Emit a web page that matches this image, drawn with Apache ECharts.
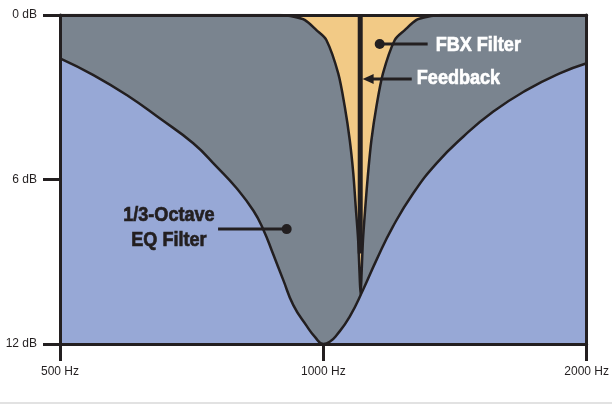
<!DOCTYPE html>
<html>
<head>
    <meta charset="utf-8">
    <title>FBX vs 1/3-Octave EQ</title>
    <script src="https://cdn.jsdelivr.net/npm/echarts@6/dist/echarts.min.js"></script>
    <style>
        html, body { margin: 0; padding: 0; background: #fff; }
    </style>
</head>
<body>
    <div id="main" style="width: 612px;height:404px;"></div>
    <script type="text/javascript">
        // tick labels
        var freqTicks = [500, 1000, 2000];
        var freqLabels = ['500 Hz', '1000 Hz', '2000 Hz'];
        var dbTicks = [0, 6, 12];
        var dbLabels = ['0 dB', '6 dB', '12 dB'];

        // 1/3-octave EQ filter (Hz, dB cut)
        var eqFreq = [500, 546, 596, 650, 710, 755, 796, 832, 854, 876, 900, 924, 957, 978, 1000,
                      1017, 1036, 1072, 1110, 1150, 1201, 1267, 1347, 1445, 1563, 1707, 1863, 2000];
        var eqGain = [1.58, 2.19, 2.92, 3.77, 4.68, 5.53, 6.32, 7.14, 7.83, 8.71, 9.67, 10.58, 11.34, 11.74, 12,
                      11.92, 11.67, 11.0, 10.03, 8.94, 7.72, 6.50, 5.41, 4.44, 3.53, 2.74, 2.13, 1.76];

        // FBX filter notch (Hz, dB cut)
        var fbxFreq = [500, 892, 928, 952, 982, 1008, 1040, 1058, 1072, 1082, 1089, 1096, 1100, 1103,
                       1106, 1110, 1117, 1125, 1135, 1150, 1170, 1207, 1239, 1278, 1312, 1364, 2000];
        var fbxGain = [0, 0, 0.07, 0.18, 0.55, 0.91, 2.13, 3.34, 4.56, 5.77, 6.99, 8.21, 9.41, 10.21,
                       9.41, 8.21, 6.99, 5.77, 4.56, 3.34, 2.13, 0.91, 0.55, 0.18, 0.07, 0, 0];

        // feedback frequency and how deep the line is drawn
        var feedbackFreq = 1102;
        var feedbackDepth = [0, 8.7];

        var dark = '#231f20';
        var font = '"Liberation Sans", Arial, sans-serif';

        // octaves above 500 Hz, so the x axis is logarithmic
        function toX(f) { return Math.log2(f / freqTicks[0]); }

        var myChart = echarts.init(document.getElementById('main'));

        var eqData = eqFreq.map(function (f, i) { return [toX(f), eqGain[i]]; });
        var fbxData = fbxFreq.map(function (f, i) { return [toX(f), fbxGain[i]]; });
        var fbLine = feedbackDepth.map(function (d) { return [toX(feedbackFreq), d]; });

        var borderAxis = { show: true, onZero: false, lineStyle: { color: dark, width: 3 } };

        option = {
            animation: false,
            grid:
            {
                left: 60, right: 25, top: 15, bottom: 60,
                show: true,
                borderWidth: 0,
                backgroundColor: '#7a848f'
            },
            xAxis: [
            {
                type: 'value',
                position: 'bottom',
                min: 0,
                max: toX(freqTicks[2]),
                interval: 1,
                z: 10,
                axisLine: borderAxis,
                axisTick: { show: true, length: 17, lineStyle: { color: dark, width: 3 } },
                axisLabel:
                {
                    margin: 22,
                    color: dark,
                    fontSize: 12,
                    fontFamily: font,
                    formatter: function (v) { return freqLabels[Math.round(v)]; }
                },
                splitLine: { show: false }
            },
            {
                type: 'value',
                position: 'top',
                min: 0,
                max: toX(freqTicks[2]),
                z: 10,
                axisLine: borderAxis,
                axisTick: { show: false },
                axisLabel: { show: false },
                splitLine: { show: false }
            }],
            yAxis: [
            {
                type: 'value',
                position: 'left',
                inverse: true,
                min: 0,
                max: 12,
                interval: 6,
                z: 10,
                axisLine: borderAxis,
                axisTick: { show: true, length: 17, lineStyle: { color: dark, width: 3 } },
                axisLabel:
                {
                    margin: 23,
                    color: dark,
                    fontSize: 12,
                    fontFamily: font,
                    formatter: function (v) { return dbLabels[dbTicks.indexOf(v)]; }
                },
                splitLine: { show: false }
            },
            {
                type: 'value',
                position: 'right',
                inverse: true,
                min: 0,
                max: 12,
                z: 10,
                axisLine: borderAxis,
                axisTick: { show: false },
                axisLabel: { show: false },
                splitLine: { show: false }
            }],
            series: [
            {
                name: '1/3-Octave EQ Filter',
                type: 'line',
                data: eqData,
                showSymbol: false,
                smooth: 0.5,
                z: 2,
                lineStyle: { color: dark, width: 2.5 },
                areaStyle: { color: '#97a8d6', opacity: 1, origin: 'end' }
            },
            {
                name: 'FBX Filter',
                type: 'line',
                data: fbxData,
                showSymbol: false,
                smooth: 0.3,
                z: 3,
                lineStyle: { color: dark, width: 2.5 },
                areaStyle: { color: '#f2ca86', opacity: 1, origin: 'start' }
            },
            {
                name: 'Feedback',
                type: 'line',
                data: fbLine,
                showSymbol: false,
                z: 4,
                lineStyle: { color: dark, width: 5, cap: 'butt' }
            }
            ]
        };
        myChart.setOption(option);

        // annotations, placed in data coordinates
        function px(f, db) { return myChart.convertToPixel({ xAxisIndex: 0, yAxisIndex: 0 }, [toX(f), db]); }

        function label(text, p, color, align) {
            return {
                type: 'text', x: p[0], y: p[1], scaleX: 0.86, z: 20,
                style: {
                    text: text, fill: color, font: 'bold 21px ' + font,
                    stroke: color, lineWidth: 0.7,
                    align: align, verticalAlign: 'middle',
                    textAlign: align, textVerticalAlign: 'middle'
                }
            };
        }
        function stroke(a, b) {
            return {
                type: 'line', z: 20,
                shape: { x1: a[0], y1: a[1], x2: b[0], y2: b[1] },
                style: { stroke: dark, lineWidth: 3 }
            };
        }
        function dot(p) {
            return { type: 'circle', z: 20, shape: { cx: p[0], cy: p[1], r: 5 }, style: { fill: dark } };
        }

        var fbxDot = px(1160, 1.06), fbxEnd = px(1316, 1.06);
        var fbTip = px(1109, 2.33), fbEnd = px(1262, 2.33);
        var eqDot = px(908, 7.81), eqEnd = px(758, 7.81);

        var graphics = [
            dot(fbxDot), stroke(fbxDot, fbxEnd),
            label('FBX Filter', px(1344, 1.09), '#ffffff', 'left'),
            stroke([fbTip[0] + 9, fbTip[1]], fbEnd),
            {
                type: 'polygon', z: 20,
                shape: { points: [[fbTip[0], fbTip[1]], [fbTip[0] + 11, fbTip[1] - 5], [fbTip[0] + 11, fbTip[1] + 5]] },
                style: { fill: dark }
            },
            label('Feedback', px(1279, 2.32), '#ffffff', 'left'),
            dot(eqDot), stroke(eqDot, eqEnd),
            label('1/3-Octave', px(666, 7.29), dark, 'center'),
            label('EQ Filter', px(666, 8.21), dark, 'center'),
            {
                type: 'rect', z: 20,
                shape: { x: 0, y: 402, width: 612, height: 2 },
                style: { fill: '#e2e2e2' }
            }
        ];
        myChart.setOption({ graphic: graphics });
    </script>
</body>
</html>
